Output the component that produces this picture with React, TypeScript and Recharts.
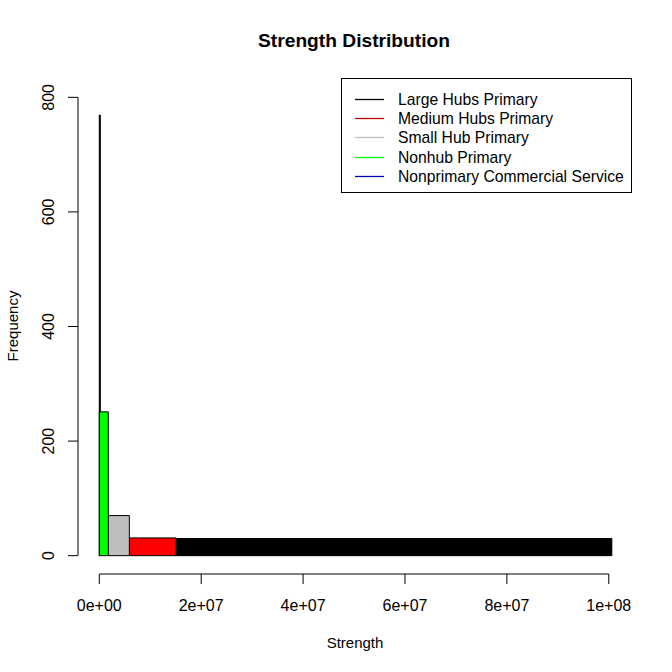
import { ComposedChart, XAxis, YAxis, Scatter, ReferenceArea, ReferenceLine, Legend } from 'recharts'

const FONT = '"Liberation Sans", Arial, sans-serif'

// one histogram bar per airport group (drawn back to front)
const groups = ['Nonprimary Commercial Service', 'Large Hubs Primary', 'Medium Hubs Primary', 'Small Hub Primary', 'Nonhub Primary']
const binStart = [0, 1.51e7, 5.9e6, 1.77e6, 0]
const binEnd = [2e5, 1.006e8, 1.51e7, 5.9e6, 1.77e6]
const counts = [769, 30, 31, 70, 251]
const fills = ['#000000', '#000000', '#ff0000', '#bebebe', '#00ff00']

// legend order and colours
const legendNames = ['Large Hubs Primary', 'Medium Hubs Primary', 'Small Hub Primary', 'Nonhub Primary', 'Nonprimary Commercial Service']
const legendColors = ['#000000', '#c00000', '#bebebe', '#00ff00', '#0000b0']

const xTicks = [0, 2e7, 4e7, 6e7, 8e7, 1e8]
const xTickLabels = ['0e+00', '2e+07', '4e+07', '6e+07', '8e+07', '1e+08']
const yTicks = [0, 200, 400, 600, 800]

const xDomain = [-4.18e6, 1.0436e8]
const yDomain = [-32, 832]

const points = groups.map((g, i) => ({ name: g, x: binStart[i], y: counts[i] }))

function XTick({ x, y, index }: any) {
  return (
    <text x={x} y={y + 25} textAnchor="middle" fontSize={16} fontFamily={FONT} fill="#000">
      {xTickLabels[index]}
    </text>
  )
}

function YTick({ x, y, payload }: any) {
  return (
    <text transform={`translate(${x - 12},${y}) rotate(-90)`} textAnchor="middle" fontSize={16} fontFamily={FONT} fill="#000">
      {payload.value}
    </text>
  )
}

function LegendBox() {
  return (
    <div style={{ width: 289, height: 113, border: '1px solid #000', background: '#fff', position: 'relative', fontFamily: FONT, fontSize: 15.7 }}>
      <svg width={289} height={113} style={{ position: 'absolute', left: 0, top: 0 }}>
        {legendNames.map((n, i) => {
          const cy = Math.round(11 + i * 19.2) + 9.5
          return <line key={n} x1={13} x2={42} y1={cy} y2={cy} stroke={legendColors[i]} strokeWidth={1.3} />
        })}
      </svg>
      {legendNames.map((n, i) => (
        <div key={n} style={{ position: 'absolute', left: 56, top: Math.round(11 + i * 19.2), lineHeight: '19px', whiteSpace: 'nowrap', color: '#000' }}>{n}</div>
      ))}
    </div>
  )
}

export default function App() {
  return (
    <div style={{ position: 'absolute', left: 0, top: 0, width: 672, height: 672, background: '#fff' }}>
      <ComposedChart width={672} height={672} data={points} margin={{ top: 79, right: 41, bottom: 58, left: 38 }}>
        <XAxis type="number" dataKey="x" domain={xDomain} ticks={xTicks} interval={0} allowDataOverflow
          axisLine={false} tickSize={10} tickLine={{ stroke: '#000' }} tick={(p: any) => <XTick {...p} />} height={40} />
        <YAxis type="number" dataKey="y" domain={yDomain} ticks={yTicks} interval={0} allowDataOverflow
          axisLine={false} tickSize={10} tickLine={{ stroke: '#000' }} tick={(p: any) => <YTick {...p} />} width={40} />
        {groups.map((g, i) => (
          <ReferenceArea key={g} x1={binStart[i]} x2={binEnd[i]} y1={0} y2={counts[i]}
            fill={fills[i]} fillOpacity={1} stroke="#000" strokeWidth={1} ifOverflow="visible" />
        ))}
        <ReferenceLine segment={[{ x: 0, y: yDomain[0] }, { x: 1e8, y: yDomain[0] }]} stroke="#000" ifOverflow="visible" />
        <ReferenceLine segment={[{ x: xDomain[0], y: 0 }, { x: xDomain[0], y: 800 }]} stroke="#000" ifOverflow="visible" />
        <Scatter dataKey="y" isAnimationActive={false} shape={() => <g />} />
        <Legend layout="horizontal" verticalAlign="middle" content={() => <LegendBox />}
          wrapperStyle={{ position: 'absolute', left: 341, top: 78, width: 291 }} />
      </ComposedChart>
      <svg width={672} height={672} style={{ position: 'absolute', left: 0, top: 0, pointerEvents: 'none' }}>
        <text x={354} y={46.7} textAnchor="middle" fontSize={19.2} fontWeight="bold" fontFamily={FONT}>Strength Distribution</text>
        <text x={355} y={648} textAnchor="middle" fontSize={15} fontFamily={FONT}>Strength</text>
        <text transform="translate(17.5,326) rotate(-90)" textAnchor="middle" fontSize={15} fontFamily={FONT}>Frequency</text>
      </svg>
    </div>
  )
}
